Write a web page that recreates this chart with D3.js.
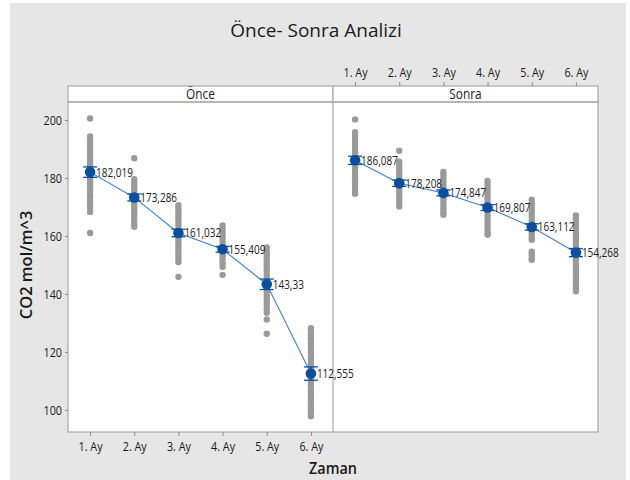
<!DOCTYPE html>
<html>
<head>
<meta charset="utf-8">
<script src="https://cdn.jsdelivr.net/npm/d3@7"></script>
<style>
body { margin: 0; background: #fff; }
text { fill: #1a1a1a; font-family: "Open Sans", sans-serif; }
</style>
</head>
<body>
<svg id="chart" width="630" height="480"></svg>
<script>
// months on the x axis
var months = ["1. Ay", "2. Ay", "3. Ay", "4. Ay", "5. Ay", "6. Ay"];
var panels = ["Önce", "Sonra"];

// means and CI half widths
var onceMeans = [182.019, 173.286, 161.032, 155.409, 143.33, 112.555];
var sonraMeans = [186.087, 178.208, 174.847, 169.807, 163.112, 154.268];
var onceCI = [1.8, 1.2, 1.3, 1.0, 1.8, 2.3];
var sonraCI = [1.4, 1.1, 1.0, 1.0, 1.1, 1.4];
var onceLabels = ["182,019", "173,286", "161,032", "155,409", "143,33", "112,555"];
var sonraLabels = ["186,087", "178,208", "174,847", "169,807", "163,112", "154,268"];

// individual observations (estimated from the grey dots)
var once1 = [200.5, 194.3, 193.0, 191.8, 190.5, 189.6, 188.4, 187.5, 186.3, 185.2, 184.4, 183.3, 182.5, 181.6, 180.4, 179.5, 178.6, 177.4, 176.3, 175.5, 174.2, 173.3, 172.1, 171.0, 169.8, 168.3, 161.0];
var once2 = [186.8, 179.6, 178.4, 177.3, 176.2, 175.4, 174.1, 173.2, 172.5, 171.3, 170.2, 169.1, 168.0, 166.9, 165.6, 164.3, 163.2];
var once3 = [170.6, 169.5, 168.2, 167.1, 166.0, 164.8, 163.7, 162.5, 161.4, 160.3, 159.2, 158.0, 156.9, 155.7, 154.6, 153.4, 152.2, 151.0, 145.9];
var once4 = [163.6, 162.4, 161.3, 160.1, 159.0, 157.8, 156.5, 155.3, 154.2, 153.0, 151.9, 150.6, 149.4, 146.6];
var once5 = [156.0, 154.8, 153.6, 152.5, 151.3, 150.1, 149.0, 147.8, 146.6, 145.4, 144.3, 143.1, 141.9, 140.7, 139.5, 138.4, 137.2, 136.2, 134.8, 133.5, 131.2, 126.3];
var once6 = [128.2, 127.0, 125.8, 124.6, 123.3, 122.1, 120.9, 119.7, 118.5, 117.3, 116.0, 114.8, 113.6, 112.4, 111.2, 110.0, 108.8, 107.6, 106.3, 105.1, 103.9, 102.7, 101.5, 100.3, 99.1, 97.8];
var sonra1 = [200.2, 195.8, 194.6, 193.4, 192.2, 191.0, 189.8, 188.7, 187.5, 186.3, 185.1, 183.9, 182.8, 181.6, 180.4, 179.2, 178.1, 176.9, 175.7, 174.6];
var sonra2 = [189.4, 185.6, 184.4, 183.2, 182.0, 180.9, 179.7, 178.5, 177.3, 176.2, 175.0, 173.8, 172.6, 171.4, 170.2];
var sonra3 = [182.1, 181.0, 179.8, 178.6, 177.4, 176.2, 175.1, 173.9, 172.7, 171.5, 170.3, 169.2, 168.0, 167.3];
var sonra4 = [179.0, 177.8, 176.7, 175.5, 174.3, 173.1, 171.9, 170.8, 169.6, 168.4, 167.2, 166.0, 164.9, 163.7, 162.5, 161.3, 160.4];
var sonra5 = [172.5, 171.3, 170.1, 168.9, 167.7, 166.6, 165.4, 164.2, 163.0, 161.8, 160.6, 159.5, 158.7, 154.6, 153.5, 152.4, 151.8];
var sonra6 = [167.1, 165.9, 164.7, 163.5, 162.3, 161.1, 159.9, 158.7, 157.6, 156.4, 155.2, 154.0, 152.8, 151.6, 150.4, 149.2, 148.1, 146.9, 145.7, 144.5, 143.3, 142.1, 140.9];

var yTicks = [100, 120, 140, 160, 180, 200];

var svg = d3.select("#chart");
var plotL = 68, plotM = 333, plotR = 598, plotT = 86, stripH = 16, plotB = 432;
var SX = 0.8; // horizontal squeeze for the narrow Minitab-like labels

svg.append("rect").attr("x", 10).attr("y", 3).attr("width", 616).attr("height", 477).attr("fill", "#e6e6e6");

var y = d3.scaleLinear().domain([92.4, 206.2]).range([plotB, plotT + stripH]);
var xs = [
	d3.scalePoint().domain(months).range([plotL, plotM]).padding(0.5),
	d3.scalePoint().domain(months).range([plotM, plotR]).padding(0.5)
];

var groups = [
	{ means: onceMeans, ci: onceCI, labels: onceLabels, obs: [once1, once2, once3, once4, once5, once6] },
	{ means: sonraMeans, ci: sonraCI, labels: sonraLabels, obs: [sonra1, sonra2, sonra3, sonra4, sonra5, sonra6] }
];

function narrowText(x, yy, str, size, anchor, sx) {
	return svg.append("text")
		.attr("transform", "translate(" + x + "," + yy + ") scale(" + (sx || SX) + ",1)")
		.attr("text-anchor", anchor || "start").attr("font-size", size).text(str);
}

// panel backgrounds and strips
panels.forEach(function(p, i) {
	var x0 = xs[i].range()[0], x1 = xs[i].range()[1];
	svg.append("rect").attr("x", x0).attr("y", plotT + stripH).attr("width", x1 - x0).attr("height", plotB - plotT - stripH)
		.attr("fill", "#fff");
	svg.append("rect").attr("x", x0).attr("y", plotT).attr("width", x1 - x0).attr("height", stripH)
		.attr("fill", "#fff").attr("stroke", "#a8a8a8").attr("stroke-width", 1.2);
	narrowText((x0 + x1) / 2, plotT + 13, p, 14.5, "middle", 0.82);
});
svg.append("rect").attr("x", plotL).attr("y", plotT + stripH).attr("width", plotR - plotL).attr("height", plotB - plotT - stripH)
	.attr("fill", "none").attr("stroke", "#a8a8a8").attr("stroke-width", 1.2);
svg.append("line").attr("x1", plotM).attr("x2", plotM).attr("y1", plotT + stripH).attr("y2", plotB)
	.attr("stroke", "#a8a8a8").attr("stroke-width", 1.2);

// axes
var yAxis = svg.append("g").attr("transform", "translate(" + plotL + ",0)")
	.call(d3.axisLeft(y).tickValues(yTicks).tickSize(3).tickPadding(3));
var xAxisB = svg.append("g").attr("transform", "translate(0," + plotB + ")")
	.call(d3.axisBottom(xs[0]).tickSize(4).tickPadding(5));
var xAxisT = svg.append("g").attr("transform", "translate(0," + plotT + ")")
	.call(d3.axisTop(xs[1]).tickSize(4).tickPadding(5));
[yAxis, xAxisB, xAxisT].forEach(function(a) {
	a.select(".domain").remove();
	a.selectAll("line").attr("stroke", "#8a8a8a");
	a.selectAll("text").attr("font-size", 13.5).attr("font-family", null).style("fill", "#1a1a1a")
		.each(function() {
			var t = d3.select(this);
			t.attr("x", (+t.attr("x") || 0) / SX).attr("transform", "scale(" + SX + ",1)");
		});
});

// marks
groups.forEach(function(g, i) {
	var x = xs[i];
	var pg = svg.append("g");
	g.obs.forEach(function(vals, k) {
		pg.selectAll(null).data(vals).enter().append("circle")
			.attr("cx", x(months[k])).attr("cy", function(d) { return y(d); })
			.attr("r", 3.2).attr("fill", "#9a9a9a");
	});
	var line = d3.line().x(function(d, k) { return x(months[k]); }).y(function(d) { return y(d); });
	svg.append("path").datum(g.means).attr("d", line).attr("fill", "none")
		.attr("stroke", "#3b7fcf").attr("stroke-width", 1.1);
	g.means.forEach(function(m, k) {
		var cx = x(months[k]);
		var eb = svg.append("g").attr("stroke", "#0a4f9e").attr("stroke-width", 1.3);
		eb.append("line").attr("x1", cx).attr("x2", cx).attr("y1", y(m - g.ci[k])).attr("y2", y(m + g.ci[k]));
		eb.append("line").attr("x1", cx - 7).attr("x2", cx + 7).attr("y1", y(m - g.ci[k])).attr("y2", y(m - g.ci[k]));
		eb.append("line").attr("x1", cx - 7).attr("x2", cx + 7).attr("y1", y(m + g.ci[k])).attr("y2", y(m + g.ci[k]));
		svg.append("circle").attr("cx", cx).attr("cy", y(m)).attr("r", 5.3).attr("fill", "#0a4f9e");
		narrowText(cx + 6, y(m) + 4.5, g.labels[k], 13.5, "start", 0.74);
	});
});

// titles
svg.append("text").attr("x", 316).attr("y", 37).attr("text-anchor", "middle")
	.attr("font-size", 19).text("Önce- Sonra Analizi");
narrowText(333, 474, "Zaman", 17, "middle", 0.85).attr("font-weight", 600);
svg.append("text").attr("transform", "translate(32,265) rotate(-90)").attr("text-anchor", "middle")
	.attr("font-size", 16.5).attr("font-weight", 600).text("CO2 mol/m^3");
</script>
</body>
</html>
